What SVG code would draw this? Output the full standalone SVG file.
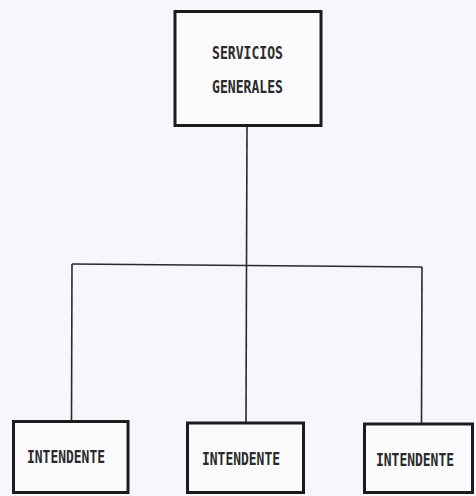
<svg xmlns="http://www.w3.org/2000/svg" width="476" height="496" viewBox="0 0 476 496">
<style>
.box{fill:#fbfbfd;stroke:#1c1c1c;stroke-width:3}
.ln{fill:none;stroke:#2a2a2a;stroke-width:1.6}
.t{font-family:"DejaVu Sans Mono","Liberation Mono",monospace;font-weight:bold;font-size:18px;fill:#2a2a2a}
</style>
<rect x="0" y="0" width="476" height="496" fill="#f6f7fb"/>
<g id="connectors">
<line class="ln" x1="247" y1="127" x2="246.5" y2="265.5"/>
<line class="ln" x1="72" y1="264" x2="422" y2="267"/>
<line class="ln" x1="72" y1="264" x2="71.5" y2="420"/>
<line class="ln" x1="246.5" y1="265.5" x2="246" y2="422"/>
<line class="ln" x1="422" y1="267" x2="421.5" y2="423"/>
</g>
<g id="servicios-generales">
<rect class="box" x="175" y="11.5" width="146" height="114"/>
<text class="t" x="212" y="59" textLength="71" lengthAdjust="spacingAndGlyphs">SERVICIOS</text>
<text class="t" x="212" y="93" textLength="71" lengthAdjust="spacingAndGlyphs">GENERALES</text>
</g>
<g id="intendente-1">
<rect class="box" x="13.5" y="421.5" width="114.5" height="71"/>
<text class="t" x="27" y="463" textLength="78" lengthAdjust="spacingAndGlyphs">INTENDENTE</text>
</g>
<g id="intendente-2">
<rect class="box" x="187.5" y="423" width="116" height="69.5"/>
<text class="t" x="202" y="465" textLength="78" lengthAdjust="spacingAndGlyphs">INTENDENTE</text>
</g>
<g id="intendente-3">
<rect class="box" x="364.5" y="424" width="108" height="68.5"/>
<text class="t" x="376" y="466" textLength="78" lengthAdjust="spacingAndGlyphs">INTENDENTE</text>
</g>
</svg>
